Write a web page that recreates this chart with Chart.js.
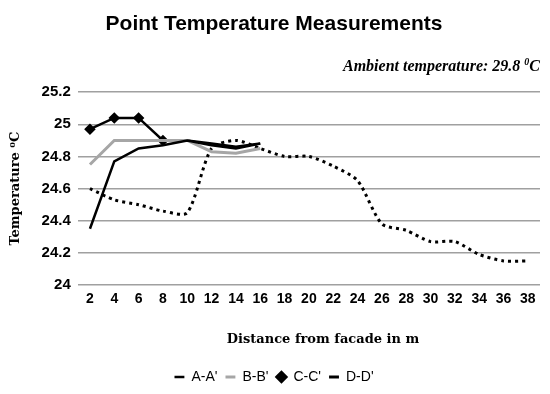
<!DOCTYPE html>
<html>
<head>
<meta charset="utf-8">
<script src="https://cdn.jsdelivr.net/npm/chart.js@4.4.0/dist/chart.umd.min.js"></script>
<style>
  html, body { margin: 0; padding: 0; background: #fff; }
  #wrap { width: 550px; height: 394px; }
</style>
</head>
<body>
<div id="wrap"><canvas id="tempChart"></canvas></div>
<script>
// distance from facade (m)
const distances = ['2', '4', '6', '8', '10', '12', '14', '16', '18', '20',
                   '22', '24', '26', '28', '30', '32', '34', '36', '38'];

const sectionA = [24.35, 24.77, 24.85, 24.87, 24.9, 24.87, 24.85, 24.88];
const sectionB = [24.75, 24.9, 24.9, 24.9, 24.9, 24.83, 24.82, 24.85];
const sectionC = [24.97, 25.04, 25.04, 24.9, 24.9, 24.88, 24.86, 24.88];
const sectionD = [24.6, 24.53, 24.5, 24.46, 24.45, 24.85, 24.9, 24.85, 24.8, 24.8,
                  24.74, 24.65, 24.38, 24.34, 24.27, 24.27, 24.19, 24.15, 24.15];

const yTicks = [24, 24.2, 24.4, 24.6, 24.8, 25, 25.2];

const sans = "'Liberation Sans', Arial, sans-serif";
const serif = "'DejaVu Serif', 'Liberation Serif', serif";

// x axis title (placed a bit right of centre like the original) and the ambient note
const extraText = {
    id: 'extraText',
    afterDraw(chart) {
        const ctx = chart.ctx;
        ctx.save();
        ctx.fillStyle = '#000';
        ctx.textBaseline = 'middle';

        ctx.font = "bold 13px " + serif;
        ctx.textAlign = 'center';
        ctx.fillText('Distance from facade in m', 323, 340);

        // "Ambient temperature: 29.8 0C" with a raised small zero
        const main = 'Ambient temperature: 29.8 ';
        const bigFont = "italic bold 16px 'Liberation Serif', serif";
        const smallFont = "italic bold 10px 'Liberation Serif', serif";
        ctx.font = bigFont;
        const wMain = ctx.measureText(main).width;
        const wC = ctx.measureText('C').width;
        ctx.font = smallFont;
        const wZero = ctx.measureText('0').width;
        let x = 540 - (wMain + wZero + wC);
        ctx.textAlign = 'left';
        ctx.font = bigFont;
        ctx.fillText(main, x, 67);
        x += wMain;
        ctx.font = smallFont;
        ctx.fillText('0', x, 62);
        x += wZero;
        ctx.font = bigFont;
        ctx.fillText('C', x, 67);
        ctx.restore();
    }
};

document.addEventListener('DOMContentLoaded', function() {
    const el = document.getElementById('tempChart');

    new Chart(el, {
        type: 'line',
        data: {
            labels: distances,
            datasets: [
                {
                    label: "A-A'",
                    data: sectionA,
                    borderColor: '#000',
                    backgroundColor: '#000',
                    borderWidth: 2.5,
                    pointRadius: 0,
                    pointStyle: 'line',
                    tension: 0
                },
                {
                    label: "B-B'",
                    data: sectionB,
                    borderColor: '#a6a6a6',
                    backgroundColor: '#a6a6a6',
                    borderWidth: 3,
                    pointRadius: 0,
                    pointStyle: 'line',
                    tension: 0
                },
                {
                    label: "C-C'",
                    data: sectionC,
                    borderColor: '#000',
                    backgroundColor: '#000',
                    borderWidth: 2.5,
                    pointStyle: 'rectRot',
                    pointRadius: [4, 4, 4, 4, 0, 0, 0, 0],
                    tension: 0
                },
                {
                    label: "D-D'",
                    data: sectionD,
                    borderColor: '#000',
                    backgroundColor: '#000',
                    borderWidth: 3,
                    borderDash: [3, 4],
                    pointRadius: 0,
                    pointStyle: 'line',
                    tension: 0.25
                }
            ]
        },
        options: {
            responsive: true,
            maintainAspectRatio: false,
            animation: false,
            layout: {
                padding: { left: 8, right: 10, top: 0, bottom: 0 }
            },
            scales: {
                x: {
                    offset: true,
                    grid: { display: false, drawTicks: false },
                    border: { display: false },
                    ticks: {
                        color: '#000',
                        padding: 6,
                        maxRotation: 0,
                        autoSkip: false,
                        font: { family: sans, size: 14, weight: 'bold' }
                    },
                    afterFit: function(axis) {
                        // leave room for the axis title drawn by extraText
                        axis.height = 77;
                    }
                },
                y: {
                    min: 24,
                    max: 25.2,
                    afterBuildTicks: function(axis) {
                        axis.ticks = yTicks.map(v => ({ value: v }));
                    },
                    grid: {
                        color: '#a0a0a0',
                        lineWidth: 1.5,
                        drawTicks: false
                    },
                    border: { display: false },
                    ticks: {
                        color: '#000',
                        padding: 7,
                        font: { family: sans, size: 15, weight: 'bold' },
                        callback: function(value) {
                            return String(Math.round(value * 10) / 10);
                        }
                    },
                    title: {
                        display: true,
                        text: 'Temperature \u2070C',
                        color: '#000',
                        padding: { top: 0, bottom: 11 },
                        font: { family: serif, size: 13, weight: 'bold' }
                    }
                }
            },
            plugins: {
                title: {
                    display: true,
                    text: 'Point Temperature Measurements',
                    color: '#000',
                    padding: { top: 12, bottom: 55 },
                    font: { family: sans, size: 21, weight: 'bold' }
                },
                legend: {
                    position: 'bottom',
                    labels: {
                        usePointStyle: true,
                        boxWidth: 10,
                        boxHeight: 7,
                        padding: 8,
                        color: '#000',
                        font: { family: sans, size: 14 }
                    }
                },
                tooltip: { enabled: false }
            }
        },
        plugins: [extraText]
    });
});
</script>
</body>
</html>
